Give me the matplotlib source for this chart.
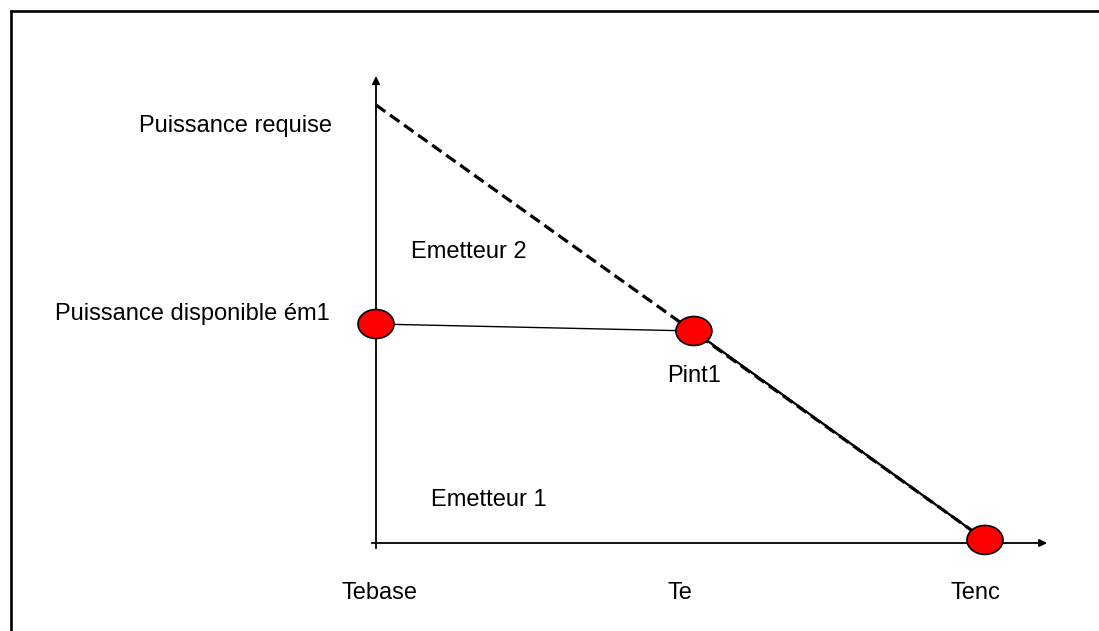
import matplotlib.pyplot as plt
from matplotlib.patches import Ellipse
from matplotlib.lines import Line2D

plt.rcParams['font.family'] = ['Liberation Sans', 'DejaVu Sans']

## Data

# outdoor temperatures (normalised: Tebase = 0, Tenc = 1)
temp_labels = ["Tebase", "Te", "Tenc"]
temps = [0.0, 0.522, 1.0]

# required power: straight line from Tebase to Tenc
p_requise = [1.0, 0.007]

# emitter 1 available power at Tebase, Te (Pint1) and Tenc
p_em1 = [0.5, 0.484, 0.007]

power_labels = ["Puissance requise", "Puissance disponible ém1"]
zone_labels = ["Emetteur 2", "Emetteur 1"]
point_label = "Pint1"

## Figure

fig = plt.figure(figsize=(10.99, 6.31), dpi=100)
ax = fig.add_axes([0, 0, 1, 1])
ax.set_xlim(-0.6174, 1.1872)
ax.set_ylim(-0.2009, 1.2397)
ax.axis("off")

# frame (only left and top edges show in the reference)
fig.add_artist(Line2D([0.0098, 0.0098], [0, 0.9826], color="black", lw=1.9,
                      transform=fig.transFigure))
fig.add_artist(Line2D([0.0098, 1], [0.9826, 0.9826], color="black", lw=1.9,
                      transform=fig.transFigure))

# axes with arrows
ax.annotate("", xy=(temps[0], 1.066), xytext=(temps[0], -0.012),
            arrowprops=dict(arrowstyle="-|>", color="black", lw=1.3,
                            mutation_scale=11, shrinkA=0, shrinkB=0))
ax.annotate("", xy=(1.102, 0), xytext=(-0.007, 0),
            arrowprops=dict(arrowstyle="-|>", color="black", lw=1.3,
                            mutation_scale=11, shrinkA=0, shrinkB=0))

# emitter 1 line
ax.plot(temps, p_em1, color="black", lw=1.0, zorder=2)
ax.plot(temps[1:], p_em1[1:], color="black", lw=1.6, zorder=2)

# required power, dashed
ax.plot([temps[0], temps[2]], p_requise, color="black", lw=2.3,
        dashes=(3.6, 1.8), zorder=3)

# red points
for t, p in zip(temps, p_em1):
    ax.add_patch(Ellipse((t, p), 0.0591, 0.0662, facecolor="red",
                         edgecolor="black", lw=1.2, zorder=4))

## Text

fs = 17
ax.text(-0.0722, 0.938, power_labels[0], fontsize=fs, ha="right", va="baseline")
ax.text(-0.0755, 0.509, power_labels[1], fontsize=fs, ha="right", va="baseline")
ax.text(0.0575, 0.651, zone_labels[0], fontsize=fs, ha="left", va="baseline")
ax.text(0.0903, 0.0845, zone_labels[1], fontsize=fs, ha="left", va="baseline")
ax.text(temps[1] - 0.044, 0.368, point_label, fontsize=fs, ha="left", va="baseline")

ax.text(temps[0] + 0.006, -0.128, temp_labels[0], fontsize=fs, ha="center", va="baseline")
ax.text(temps[1] - 0.044, -0.128, temp_labels[1], fontsize=fs, ha="left", va="baseline")
ax.text(temps[2] - 0.015, -0.128, temp_labels[2], fontsize=fs, ha="center", va="baseline")

fig.savefig("out.png", dpi=100)
